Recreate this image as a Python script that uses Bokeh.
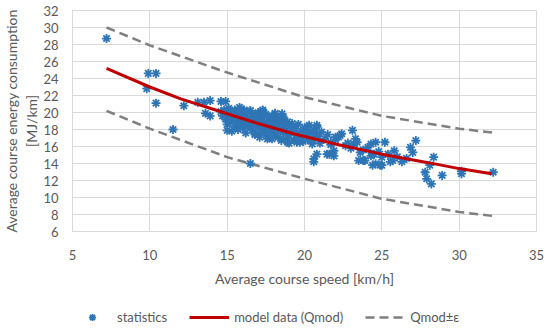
from bokeh.plotting import figure
from bokeh.models import Range1d, FixedTicker, Legend, LegendItem
from bokeh.layouts import column
from bokeh.embed import file_html
from bokeh.resources import INLINE

# ---- data ----
stat_x = [7.2, 9.9, 10.4, 9.8, 10.4, 11.5, 12.2, 13.1, 13.5, 13.9, 14.6, 14.9, 13.6, 13.9,
          16.5, 15.9, 16.5, 17.3, 15.0, 18.55, 19.2, 20.2, 20.8, 20.6, 23.1, 22.0, 22.3,
          21.6, 21.9, 23.2, 24.3, 23.5, 23.8, 24.4, 24.6, 25.0, 25.2, 25.8, 25.7, 26.3,
          27.0, 26.85, 27.2, 27.8, 27.9, 28.2, 28.1, 28.35, 28.9, 30.15, 30.15, 32.2,
          24.5, 25.0, 24.9, 24.4, 25.55, 20.6, 20.8, 18.66, 20.06, 20.8, 21.7, 22.2,
          21.9, 21.46, 22.65, 23.4, 23.6, 24.3, 23.9, 24.6, 19.7, 18.9, 20.3, 18.1,
          15.4, 17.6, 16.8,
          14.6, 14.7, 14.8, 14.9, 15.0, 15.0, 15.1, 15.2, 15.2, 15.3, 15.3, 15.4, 15.5,
          15.5, 15.6, 15.7, 15.7, 15.8, 15.8, 15.9, 16.0, 16.0, 16.1, 16.1, 16.2, 16.2,
          16.3, 16.3, 16.4, 16.5, 16.5, 16.6, 16.6, 16.7, 16.8, 16.8, 16.9, 17.0, 17.0,
          17.1, 17.1, 17.2, 17.2, 17.3, 17.3, 17.4, 17.5, 17.5, 17.6, 17.6, 17.7, 17.8,
          17.8, 17.9, 17.9, 18.0, 18.0, 18.1, 18.1, 18.2, 18.3, 18.3, 18.4, 18.5, 18.5,
          18.6, 18.6, 18.7, 18.8, 18.8, 18.9, 19.0, 19.0, 19.1, 19.2, 19.3, 19.4, 19.5,
          19.5, 19.6, 19.7, 19.8, 19.9, 20.0, 20.1, 20.2, 20.3, 20.4, 20.5, 20.6, 20.7,
          20.8, 20.9, 21.0, 21.1, 21.3, 21.5, 21.7, 22.0, 22.4, 22.8, 23.0, 23.3, 23.8,
          24.1, 24.8, 25.4, 26.0, 26.6]
stat_y = [28.7, 24.6, 24.6, 22.8, 21.1, 18.0, 20.8, 21.2, 21.2, 21.4, 21.3, 21.3, 19.9, 19.6,
          14.0, 20.4, 20.2, 20.2, 17.9, 19.85, 18.7, 18.3, 18.5, 14.2, 17.9, 17.1, 17.3,
          15.1, 14.9, 16.3, 16.3, 14.35, 14.35, 15.1, 13.97, 13.8, 16.5, 15.5, 14.35, 14.2,
          15.3, 15.9, 16.7, 12.97, 12.2, 11.6, 13.8, 14.75, 12.6, 12.8, 13.1, 12.97,
          15.1, 14.75, 13.8, 13.8, 14.2, 14.55, 15.1, 19.26, 17.9, 17.5, 16.5, 17.1,
          15.5, 15.1, 16.1, 16.5, 15.3, 14.9, 14.35, 16.5, 16.5, 16.5, 16.9, 19.85,
          19.26, 16.9, 17.5,
          20.1, 19.6, 20.3, 19.2, 19.9, 18.6, 20.5, 19.4, 18.9, 20.1, 17.8, 19.6, 18.4,
          20.3, 19.1, 19.8, 18.0, 20.6, 18.7, 19.3, 19.9, 18.2, 20.3, 18.9, 19.5, 17.6,
          18.5, 20.0, 19.0, 18.3, 20.2, 19.4, 17.9, 18.8, 19.7, 17.4, 18.4, 19.2, 20.0,
          18.1, 17.1, 19.5, 18.6, 17.7, 20.3, 18.9, 18.2, 19.8, 17.3, 18.7, 19.3, 17.9,
          18.5, 19.6, 16.9, 18.2, 19.0, 17.5, 19.9, 18.6, 17.1, 19.3, 18.0, 16.7, 18.8,
          17.6, 19.5, 18.3, 16.9, 17.9, 18.9, 17.3, 16.4, 18.4, 17.8, 16.8, 18.1, 17.4,
          16.5, 18.6, 17.0, 17.8, 16.6, 18.2, 17.3, 16.8, 18.5, 17.6, 16.3, 17.9, 16.9,
          18.3, 17.2, 16.4, 17.7, 16.9, 17.4, 16.2, 16.8, 17.5, 16.4, 15.8, 16.9, 15.6,
          15.9, 15.4, 15.1, 14.8, 14.6]

model_x = [7.2, 10.0, 12.0, 14.4, 17.0, 19.3, 22.0, 25.0, 28.0, 30.0, 32.1]
model_y = [25.2, 23.0, 21.6, 20.2, 18.7, 17.5, 16.3, 15.1, 14.1, 13.4, 12.8]

upper_x = [7.2, 10.0, 15.0, 20.0, 25.0, 30.0, 32.3]
upper_y = [30.0, 27.9, 24.7, 21.8, 19.6, 18.1, 17.6]
lower_x = [7.2, 10.0, 15.0, 20.0, 25.0, 30.0, 32.3]
lower_y = [20.2, 18.1, 14.75, 12.2, 9.85, 8.3, 7.8]

x_ticks = [5, 10, 15, 20, 25, 30, 35]
y_ticks = [6, 8, 10, 12, 14, 16, 18, 20, 22, 24, 26, 28, 30, 32]

x_title = "Average course speed [km/h]"
y_title = "Average course energy consumption\n[MJ/km]"
legend_labels = ["statistics", "model data (Qmod)", "Qmod±ε"]

FONT = "Lato"
TXT = "#595959"
GRID = "#d9d9d9"
BLUE = "#2e75b6"
RED = "#c00000"
GREY = "#7f7f7f"
NAN = float("nan")

p = figure(width=550, height=306, output_backend="svg", toolbar_location=None,
           x_range=Range1d(5, 35), y_range=Range1d(6, 32),
           min_border_left=72, min_border_right=14, min_border_top=10, min_border_bottom=75)
p.outline_line_color = GRID
p.background_fill_color = "white"
p.border_fill_color = "white"

for ax in (p.xaxis[0], p.yaxis[0]):
    ax.major_tick_line_color = None
    ax.minor_tick_line_color = None
    ax.axis_line_color = GRID
    ax.major_label_text_font = FONT
    ax.major_label_text_font_size = "13px"
    ax.major_label_text_color = TXT
    ax.axis_label_text_font = FONT
    ax.axis_label_text_font_size = "14px"
    ax.axis_label_text_font_style = "normal"
    ax.axis_label_text_color = TXT
p.xaxis.ticker = FixedTicker(ticks=x_ticks)
p.yaxis.ticker = FixedTicker(ticks=y_ticks)
p.xaxis.major_label_standoff = 12
p.yaxis.major_label_standoff = 8
p.xaxis.axis_label = x_title
p.yaxis.axis_label = y_title
p.xaxis.axis_label_standoff = 7
p.yaxis.axis_label_standoff = 0
p.xgrid.ticker = FixedTicker(ticks=x_ticks)
p.ygrid.ticker = FixedTicker(ticks=y_ticks)
p.xgrid.grid_line_color = GRID
p.ygrid.grid_line_color = GRID

p.line(upper_x, upper_y, line_color=GREY, line_width=2.5, line_dash="9 5")
p.line(lower_x, lower_y, line_color=GREY, line_width=2.5, line_dash="9 5")
p.scatter(stat_x, stat_y, marker="asterisk", size=9, line_color=BLUE, line_width=1.8)
p.line(model_x, model_y, line_color=RED, line_width=3)

# legend strip below the chart (legend keys only; the NaN points draw nothing)
q = figure(width=550, height=22, output_backend="svg", toolbar_location=None,
           x_range=Range1d(0, 1), y_range=Range1d(0, 1),
           x_axis_location=None, y_axis_location=None, min_border=0)
q.outline_line_color = None
q.xgrid.visible = False
q.ygrid.visible = False
k_sc = q.scatter(x=[NAN], y=[NAN], marker="asterisk", size=9, line_color=BLUE, line_width=1.8)
k_md = q.line(x=[NAN, NAN], y=[NAN, NAN], line_color=RED, line_width=3)
k_up = q.line(x=[NAN, NAN], y=[NAN, NAN], line_color=GREY, line_width=2.5, line_dash="9 5")

legend = Legend(items=[LegendItem(label=legend_labels[0], renderers=[k_sc]),
                       LegendItem(label=legend_labels[1], renderers=[k_md]),
                       LegendItem(label=legend_labels[2], renderers=[k_up])],
                orientation="horizontal", location=(0, 2))
legend.border_line_color = None
legend.background_fill_alpha = 0
legend.margin = 0
legend.padding = 0
legend.spacing = 22
legend.glyph_width = 40
legend.glyph_height = 18
legend.label_standoff = 5
legend.label_text_font = FONT
legend.label_text_font_size = "13px"
legend.label_text_color = TXT
q.add_layout(legend, "center")

open("out.html", "w").write(file_html(column(p, q, spacing=0), INLINE))
